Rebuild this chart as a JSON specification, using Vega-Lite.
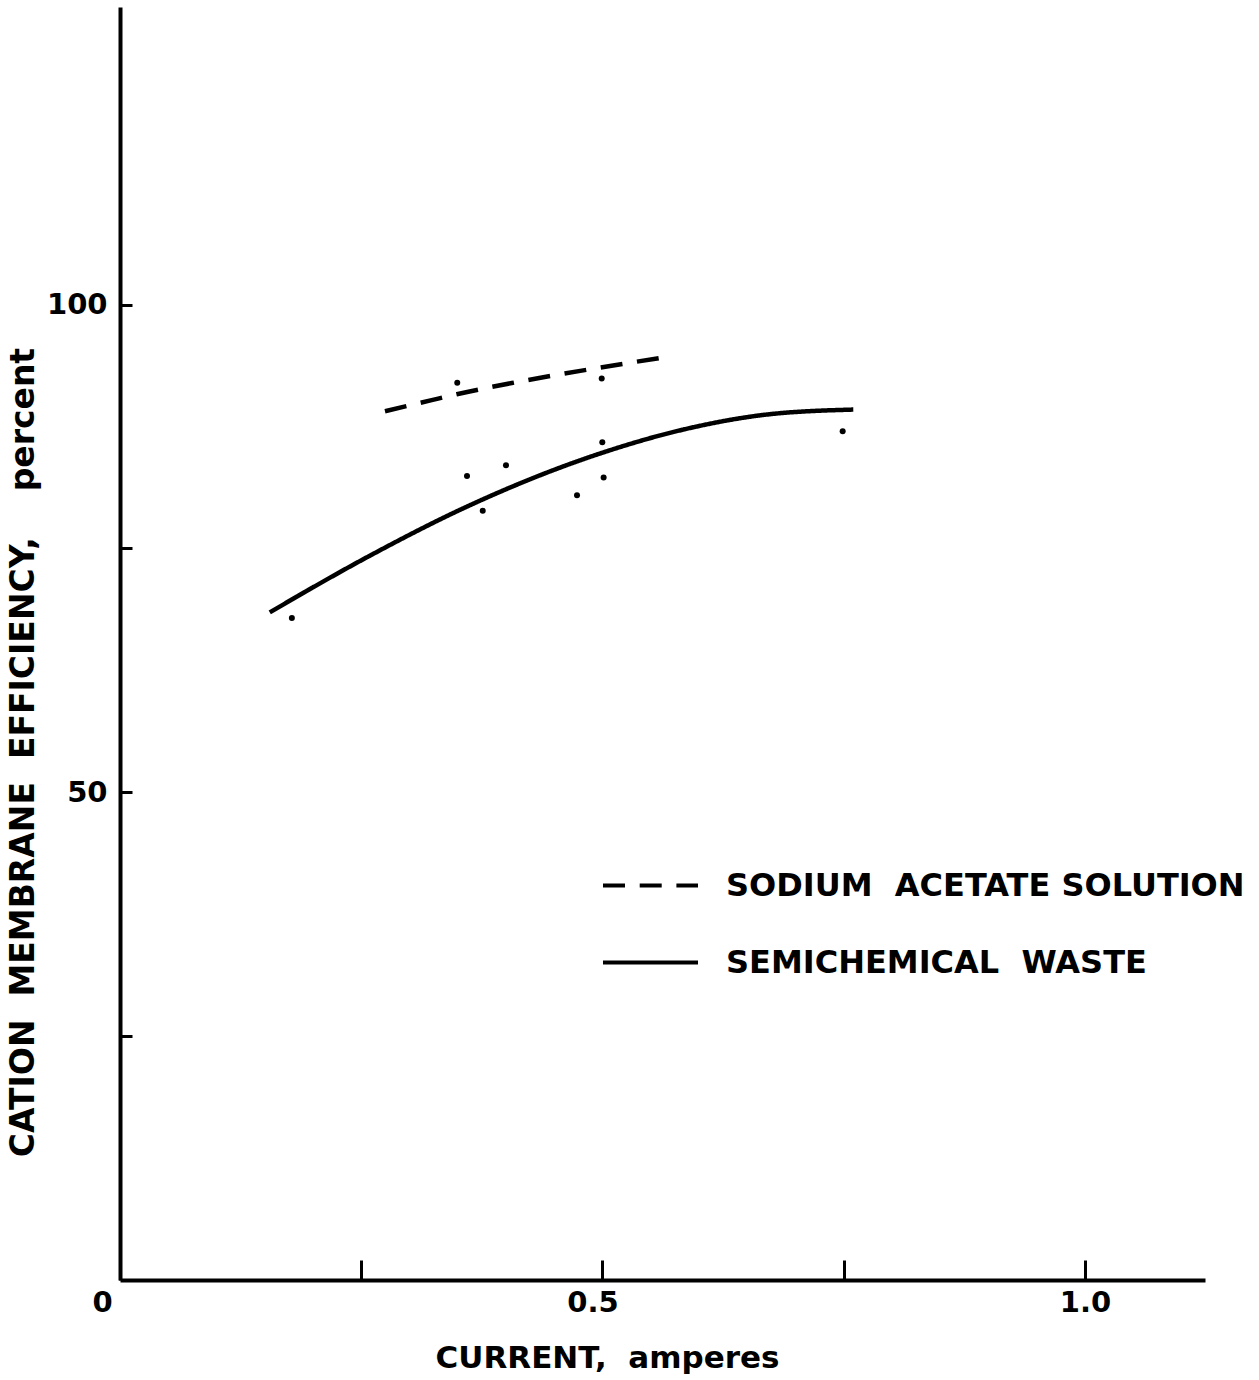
{
  "$schema": "https://vega.github.io/schema/vega-lite/v6.json",
  "width": 1085,
  "height": 1273,
  "autosize": {"type": "none"},
  "padding": {"left": 120, "top": 7, "right": 54, "bottom": 100},
  "background": "white",
  "config": {"view": {"stroke": null}, "font": "DejaVu Sans"},
  "datasets": {
    "curves": [
      {"series": "SODIUM\u00a0 ACETATE SOLUTION", "current": 0.2746, "efficiency": 89.06},
      {"series": "SODIUM\u00a0 ACETATE SOLUTION", "current": 0.323, "efficiency": 90.2},
      {"series": "SODIUM\u00a0 ACETATE SOLUTION", "current": 0.349, "efficiency": 90.8},
      {"series": "SODIUM\u00a0 ACETATE SOLUTION", "current": 0.406, "efficiency": 91.95},
      {"series": "SODIUM\u00a0 ACETATE SOLUTION", "current": 0.477, "efficiency": 93.2},
      {"series": "SODIUM\u00a0 ACETATE SOLUTION", "current": 0.5585, "efficiency": 94.5},
      {"series": "SEMICHEMICAL\u00a0 WASTE", "current": 0.1552, "efficiency": 68.44},
      {"series": "SEMICHEMICAL\u00a0 WASTE", "current": 0.2576, "efficiency": 74.18},
      {"series": "SEMICHEMICAL\u00a0 WASTE", "current": 0.3601, "efficiency": 79.31},
      {"series": "SEMICHEMICAL\u00a0 WASTE", "current": 0.4994, "efficiency": 84.79},
      {"series": "SEMICHEMICAL\u00a0 WASTE", "current": 0.5837, "efficiency": 87.18},
      {"series": "SEMICHEMICAL\u00a0 WASTE", "current": 0.6701, "efficiency": 88.72},
      {"series": "SEMICHEMICAL\u00a0 WASTE", "current": 0.7599, "efficiency": 89.23}
    ],
    "points": [
      {"current": 0.3495, "efficiency": 91.97},
      {"current": 0.4992, "efficiency": 92.41},
      {"current": 0.4998, "efficiency": 85.88},
      {"current": 0.3596, "efficiency": 82.43},
      {"current": 0.4, "efficiency": 83.52},
      {"current": 0.5012, "efficiency": 82.26},
      {"current": 0.4736, "efficiency": 80.44},
      {"current": 0.3759, "efficiency": 78.87},
      {"current": 0.1781, "efficiency": 67.87},
      {"current": 0.7489, "efficiency": 87.01}
    ]
  },
  "layer": [
    {
      "data": {"name": "curves"},
      "mark": {"type": "line", "interpolate": "monotone", "strokeWidth": 4.5, "color": "black"},
      "encoding": {
        "x": {
          "field": "current", "type": "quantitative",
          "scale": {"domain": [0, 1.1244], "nice": false, "zero": false},
          "axis": {
            "title": "CURRENT,\u00a0 amperes",
            "values": [0, 0.25, 0.5, 0.75, 1],
            "labelExpr": "datum.value == 0 ? '0' : datum.value == 0.5 ? '0.5' : datum.value == 1 ? '1.0' : ''",
            "labelOffset": {"expr": "datum.value == 0 ? -18 : datum.value == 0.5 ? -10 : 0"},
            "grid": false,
            "domainColor": "black", "domainWidth": 4,
            "tickColor": "black", "tickWidth": 3, "tickSize": -20,
            "labelFont": "DejaVu Sans", "labelFontSize": 29, "labelFontWeight": "bold", "labelColor": "black",
            "labelPadding": 28, "labelFlush": false, "labelOverlap": false, "labelBound": false,
            "titleFont": "DejaVu Sans", "titleFontSize": 31, "titleFontWeight": "bold", "titleColor": "black",
            "titleX": 487, "titleY": 87, "titleAlign": "center", "titleBaseline": "alphabetic"
          }
        },
        "y": {
          "field": "efficiency", "type": "quantitative",
          "scale": {"domain": [0, 130.5], "nice": false},
          "axis": {
            "title": "CATION\u00a0 MEMBRANE\u00a0 EFFICIENCY,\u00a0\u00a0\u00a0 percent",
            "values": [25, 50, 75, 100],
            "labelExpr": "datum.value == 50 || datum.value == 100 ? datum.label : ''",
            "grid": false,
            "domainColor": "black", "domainWidth": 4,
            "tickColor": "black", "tickWidth": 3, "tickSize": -12,
            "labelFont": "DejaVu Sans", "labelFontSize": 29, "labelFontWeight": "bold", "labelColor": "black",
            "labelPadding": 25, "labelOverlap": false, "labelBound": false,
            "titleFont": "DejaVu Sans", "titleFontSize": 33, "titleFontWeight": "bold", "titleColor": "black",
            "titleAngle": -90, "titleX": -87, "titleY": 745, "titleAlign": "center", "titleBaseline": "alphabetic"
          }
        },
        "strokeDash": {
          "field": "series", "type": "nominal",
          "scale": {"domain": ["SODIUM\u00a0 ACETATE SOLUTION", "SEMICHEMICAL\u00a0 WASTE"], "range": [[22, 14.7], [1, 0]]},
          "legend": {
            "title": null, "orient": "none", "legendX": 481, "legendY": 829,
            "symbolType": "stroke", "symbolSize": 9025, "symbolStrokeWidth": 4, "symbolStrokeColor": "black",
            "labelFont": "DejaVu Sans", "labelFontSize": 32, "labelFontWeight": "bold", "labelColor": "black",
            "labelOffset": 26, "labelLimit": 0, "rowPadding": 11
          }
        }
      }
    },
    {
      "data": {"name": "points"},
      "mark": {"type": "circle", "size": 36, "color": "black", "opacity": 1},
      "encoding": {
        "x": {"field": "current", "type": "quantitative"},
        "y": {"field": "efficiency", "type": "quantitative"}
      }
    }
  ]
}
